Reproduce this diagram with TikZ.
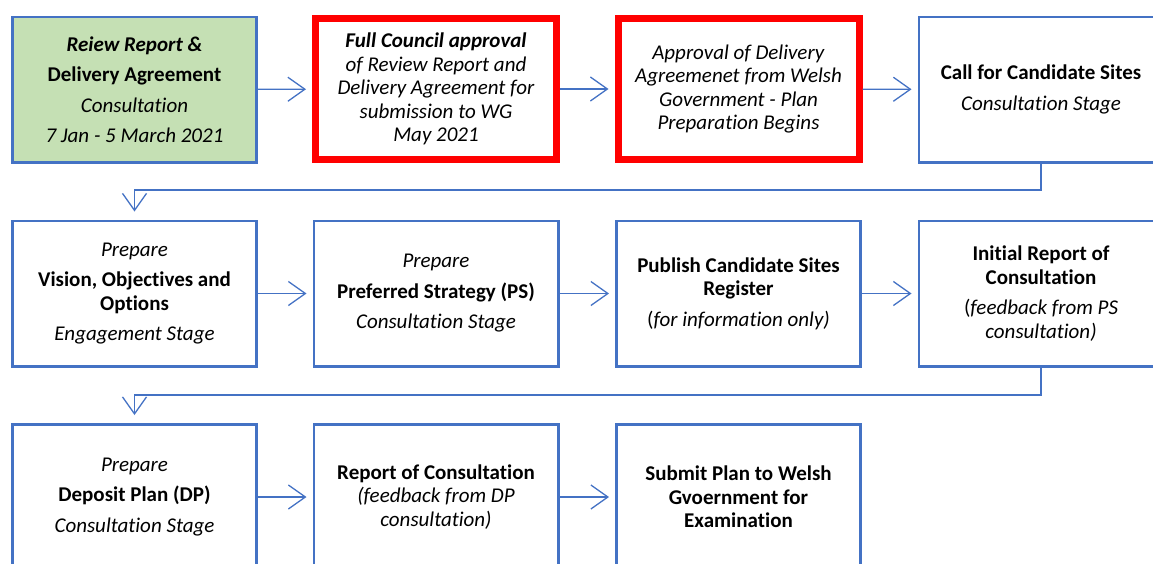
\documentclass[tikz,border=0pt]{standalone}
\usepackage{fontspec}
\setmainfont{Carlito}[Ligatures=NoCommon]
\usetikzlibrary{arrows.meta}
\definecolor{boxblue}{HTML}{4472C4}
\definecolor{boxgreen}{HTML}{C5E0B4}
\definecolor{boxred}{HTML}{FF0000}

\begin{document}
\begin{tikzpicture}[x=1pt, y=1pt, every node/.style={draw=boxblue, line width=2.8pt, minimum width=244.2pt, minimum height=145.2pt, align=center, inner sep=4pt, font=\fontsize{21pt}{23.5pt}\selectfont},
	redbox/.style={draw=boxred, line width=7pt, minimum width=241pt, minimum height=141pt},
	link/.style={draw=boxblue, line width=1.3pt, shorten >=6pt, -{Straight Barb[length=17pt,width=24pt]}}]
				\useasboundingbox (0,0) rectangle (1153,-563);
				\clip (0,0) rectangle (1153,-563);

				% Nodes
				\node[fill=boxgreen] (review) at (134.5, -89.5) {\textbf{\textit{Reiew Report \&}}\\[7pt] \textbf{Delivery Agreement}\\[7pt] \textit{Consultation}\\[7pt] \textit{7 Jan - 5 March 2021}};
				\node[redbox] (council) at (436, -89) {\textbf{\textit{Full Council approval}}\\ \textit{of Review Report and}\\ \textit{Delivery Agreement for}\\ \textit{submission to WG}\\ \textit{May 2021}};
				\node[redbox] (approval) at (738.5, -89) {\textit{Approval of Delivery}\\ \textit{Agreemenet from Welsh}\\ \textit{Government - Plan}\\ \textit{Preparation Begins}};
				\node (sites) at (1041, -89.5) {\textbf{Call for Candidate Sites}\\[7pt] \textit{Consultation Stage}};
				\node (vision) at (134.5, -293.5) {\textit{Prepare}\\[7pt] \textbf{Vision, Objectives and}\\ \textbf{Options}\\[7pt] \textit{Engagement Stage}};
				\node (strategy) at (436, -293.5) {\textit{Prepare}\\[7pt] \textbf{Preferred Strategy (PS)}\\[7pt] \textit{Consultation Stage}};
				\node (register) at (738.5, -293.5) {\textbf{Publish Candidate Sites}\\ \textbf{Register}\\[7pt] (\textit{for information only)}};
				\node (initial) at (1041, -293.5) {\textbf{Initial Report of}\\ \textbf{Consultation}\\[7pt] (\textit{feedback from PS}\\ \textit{consultation)}};
				\node (deposit) at (134.5, -497) {\textit{Prepare}\\[7pt] \textbf{Deposit Plan (DP)}\\[7pt] \textit{Consultation Stage}};
				\node (report) at (436, -497) {\textbf{Report of Consultation}\\ \textit{(feedback from DP}\\ \textit{consultation)}};
				\node (submit) at (738.5, -497) {\textbf{Submit Plan to Welsh}\\ \textbf{Gvoernment for}\\ \textbf{Examination}};
				\coordinate (bendA) at (600, -190);
				\coordinate (bendB) at (600, -395);

				% Edges
				\draw[link] (review) -- (council);
				\draw[link] (council) -- (approval);
				\draw[link] (approval) -- (sites);
				\draw[link, shorten >=8pt] (sites.south) |- (bendA) -| (vision.north);
				\draw[link] (vision) -- (strategy);
				\draw[link] (strategy) -- (register);
				\draw[link] (register) -- (initial);
				\draw[link, shorten >=8pt] (initial.south) |- (bendB) -| (deposit.north);
				\draw[link] (deposit) -- (report);
				\draw[link] (report) -- (submit);
			\end{tikzpicture}
\end{document}
